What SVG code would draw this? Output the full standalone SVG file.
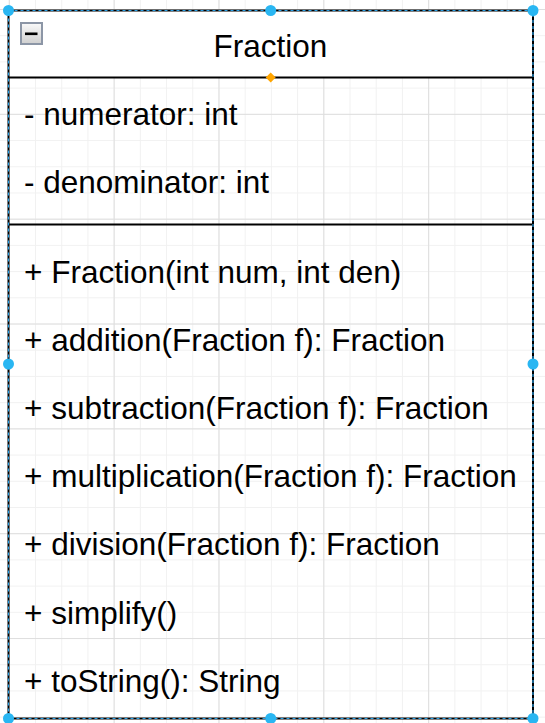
<svg xmlns="http://www.w3.org/2000/svg" width="545" height="723" viewBox="0 0 545 723">
<style>
.t{font-family:"Liberation Sans",Arial,sans-serif;font-size:31.5px;fill:#000}
.sep{stroke:#000;stroke-width:2}
.h{fill:#29b6f2}
</style>
<defs>
<pattern id="minor" x="8.8" y="9" width="26.21" height="26.21" patternUnits="userSpaceOnUse">
<path d="M0 0.5H26.21M0.5 0V26.21" fill="none" stroke="#f1f1f1" stroke-width="1"/>
</pattern>
<pattern id="major" x="8.8" y="9" width="104.84" height="104.84" patternUnits="userSpaceOnUse">
<path d="M0 0.5H104.84M0.5 0V104.84" fill="none" stroke="#dedede" stroke-width="1"/>
</pattern>
<linearGradient id="ig" x1="0" y1="0" x2="0" y2="1">
<stop offset="0" stop-color="#fafafa"/>
<stop offset="1" stop-color="#cfcfcf"/>
</linearGradient>
</defs>
<rect width="545" height="723" fill="#fff"/>
<rect width="545" height="723" fill="url(#minor)"/>
<rect width="545" height="723" fill="url(#major)"/>
<g id="connectors"/>
<g id="Fraction">
<rect x="8.5" y="10.5" width="524.5" height="67" fill="#fff"/>
<rect x="8.5" y="10.5" width="524.5" height="708" fill="none" stroke="#000" stroke-width="2"/>
<line class="sep" x1="8.5" y1="77.5" x2="533" y2="77.5"/>
<line class="sep" x1="8.5" y1="224.5" x2="533" y2="224.5"/>
<rect x="21" y="23" width="21" height="21" fill="url(#ig)" stroke="#8c96a6" stroke-width="2"/>
<rect x="25" y="32.5" width="12.5" height="2.6" fill="#000"/>
<text class="t" x="270.5" y="57" text-anchor="middle">Fraction</text>
<text class="t" x="24" y="125.3">- numerator: int</text>
<text class="t" x="24" y="193.4">- denominator: int</text>
<text class="t" x="24" y="283">+ Fraction(int num, int den)</text>
<text class="t" x="24" y="351.1">+ addition(Fraction f): Fraction</text>
<text class="t" x="24" y="419.2">+ subtraction(Fraction f): Fraction</text>
<text class="t" x="24" y="487.3">+ multiplication(Fraction f): Fraction</text>
<text class="t" x="24" y="555.4">+ division(Fraction f): Fraction</text>
<text class="t" x="24" y="623.5">+ simplify()</text>
<text class="t" x="24" y="691.6">+ toString(): String</text>
</g>
<g id="selection">
<rect x="8.5" y="10.5" width="524.5" height="708" fill="none" stroke="#29a0e6" stroke-width="1.2" stroke-dasharray="3 3"/>
<circle class="h" cx="8.5" cy="10.5" r="5.5"/>
<circle class="h" cx="270.7" cy="10.5" r="5.5"/>
<circle class="h" cx="533" cy="10.5" r="5.5"/>
<circle class="h" cx="8.5" cy="364" r="5.5"/>
<circle class="h" cx="533" cy="364" r="5.5"/>
<circle class="h" cx="8.5" cy="718.5" r="5.5"/>
<circle class="h" cx="270.7" cy="718.5" r="5.5"/>
<circle class="h" cx="533" cy="718.5" r="5.5"/>
<path d="M270.7 72.5L275.7 77.5L270.7 82.5L265.7 77.5Z" fill="#ffa500"/>
</g>
</svg>
